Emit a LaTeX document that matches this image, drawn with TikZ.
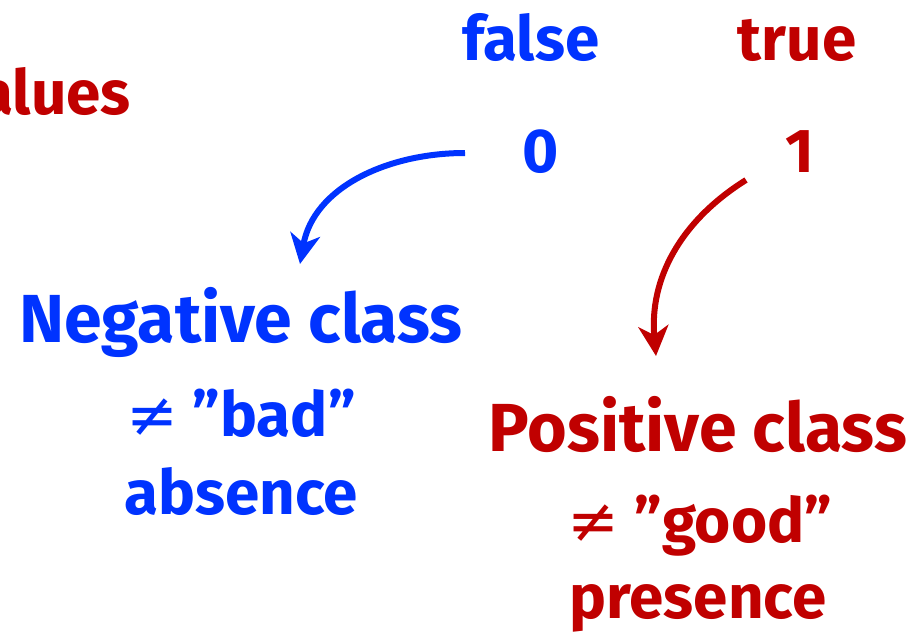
\documentclass[tikz,border=0pt]{standalone}
\usepackage{fontspec}
\setmainfont{Fira Sans}
\newfontfamily\symf{DejaVu Sans}
\usetikzlibrary{arrows.meta,calc}
\definecolor{myblue}{RGB}{0,51,255}
\definecolor{myred}{RGB}{192,0,0}
\newcommand{\nq}{{\symf\mdseries ≠}}
\begin{document}
\begin{tikzpicture}[x=1pt,y=-1pt,
  lbl/.style={font=\bfseries\fontsize{62}{68}\selectfont, inner sep=0pt, anchor=base},
  big/.style={font=\bfseries\fontsize{68}{74}\selectfont, inner sep=0pt, anchor=base},
  bl/.style={text=myblue},
  rd/.style={text=myred},
  arr/.style={line width=6pt, -{Stealth[length=30pt,width=30pt,inset=9pt]}}]
\useasboundingbox (0,0) rectangle (918,634);
\clip (0,0) rectangle (918,634);
\node[lbl,rd,anchor=base east] (values) at (131,114) {values};
\node[lbl,bl] (false) at (531,61) {false};
\node[lbl,rd] (true) at (797,61) {true};
\node[lbl,bl] (zero) at (541,172) {0};
\node[lbl,rd] (one) at (800,172) {1};
\node[big,bl] (neg) at (241,342) {Negative class};
\node[lbl,bl] (negb) at (241,436) {\nq\ ”bad”};
\node[lbl,bl] (nega) at (241,514) {absence};
\node[big,rd] (pos) at (698,451) {Positive class};
\node[lbl,rd] (posb) at (700,542) {\nq\ ”good”};
\node[lbl,rd] (posa) at (698,618) {presence};
\coordinate (bs) at (465,153);
\coordinate (be) at (300,264);
\coordinate (rs) at (746,180);
\coordinate (re) at (656,356);
\draw[arr,myblue] (bs) to[out=180,in=80] (be);
\draw[arr,myred] (rs) to[out=212,in=95] (re);
\end{tikzpicture}
\end{document}
